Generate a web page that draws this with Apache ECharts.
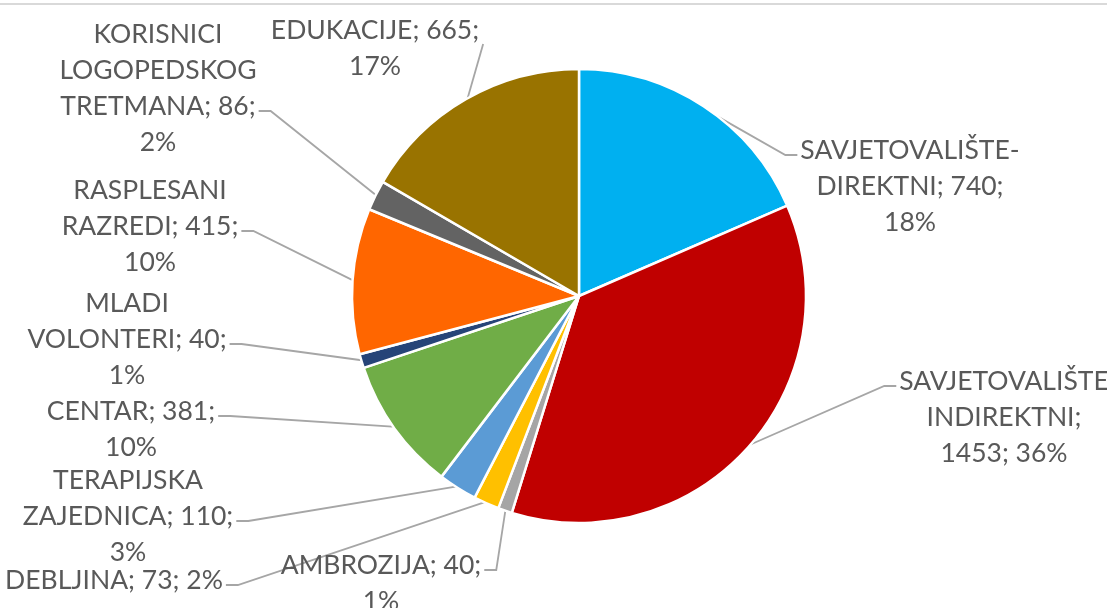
<!DOCTYPE html>
<html>
<head>
<meta charset="utf-8">
<title>Pie</title>
<script src="https://cdn.jsdelivr.net/npm/echarts@6/dist/echarts.min.js"></script>
<style>
html, body { margin: 0; padding: 0; background: #fff; }
#main { width: 1107px; height: 608px; position: relative; }
#topline { position: absolute; left: 0; right: 0; top: 3px; height: 2px; background: #d9d9d9; z-index: 2; }
</style>
</head>
<body>
<div id="main"></div>
<div id="topline"></div>
<script>
// podaci
var categories = ['SAVJETOVALIŠTE-DIREKTNI', 'SAVJETOVALIŠTE INDIREKTNI', 'AMBROZIJA', 'DEBLJINA',
  'TERAPIJSKA ZAJEDNICA', 'CENTAR', 'MLADI VOLONTERI', 'RASPLESANI RAZREDI',
  'KORISNICI LOGOPEDSKOG TRETMANA', 'EDUKACIJE'];
var values = [740, 1453, 40, 73, 110, 381, 40, 415, 86, 665];
var colors = ['#00B0F0', '#C00000', '#A5A5A5', '#FFC000', '#5B9BD5', '#70AD47', '#264478', '#FF6600', '#636363', '#997300'];

// how many words go on each label line
var wordsPerLine = [[1, 2, 1], [1, 1, 2], [2, 1], [3], [1, 2, 1], [2, 1], [1, 2, 1], [1, 2, 1], [1, 1, 2, 1], [2, 1]];

// label placement: centre x, top y, line the leader attaches to, side of the text
var labelPos = [
  { cx: 910, top: 132, line: 0, side: 'L' },
  { cx: 1004, top: 363, line: 0, side: 'L' },
  { cx: 381, top: 547, line: 0, side: 'R' },
  { cx: 114, top: 562, line: 0, side: 'R' },
  { cx: 128, top: 462, line: 1, side: 'R' },
  { cx: 131, top: 393, line: 0, side: 'R' },
  { cx: 127, top: 285, line: 1, side: 'R' },
  { cx: 150, top: 172, line: 1, side: 'R' },
  { cx: 158, top: 16, line: 2, side: 'R' },
  { cx: 375, top: 12, line: 0, side: 'U' }
];

var FONT = 'Lato';
var FONT_SIZE = 26.5;
var LH = 36;
var CENTER = [579, 296];
var RADIUS = 227;

var total = values.reduce(function (a, b) { return a + b; }, 0);

function labelLines(i) {
  var pct = Math.round(values[i] / total * 100);
  var txt = categories[i] + '; ' + values[i] + '; ' + pct + '%';
  var words = txt.replace(/-/g, '- ').split(' ');
  var out = [], k = 0;
  wordsPerLine[i].forEach(function (n) {
    out.push(words.slice(k, k + n).join(' '));
    k += n;
  });
  return out;
}

var measureCtx = document.createElement('canvas').getContext('2d');
measureCtx.font = FONT_SIZE + 'px ' + FONT;

function midAngle(i) {
  var cum = 0;
  for (var j = 0; j < i; j++) cum += values[j];
  return (cum + values[i] / 2) / total * Math.PI * 2;
}

var chart = echarts.init(document.getElementById('main'), null, { renderer: 'canvas' });

var option = {
  backgroundColor: '#fff',
  animation: false,
  color: colors,
  series: [{
    type: 'pie',
    center: CENTER,
    radius: RADIUS,
    startAngle: 90,
    clockwise: true,
    avoidLabelOverlap: false,
    emphasis: { disabled: true },
    itemStyle: { borderColor: '#fff', borderWidth: 2.5 },
    label: {
      show: true,
      position: 'outside',
      fontFamily: FONT,
      fontSize: FONT_SIZE,
      lineHeight: LH,
      color: '#595959',
      formatter: function (p) { return labelLines(p.dataIndex).join('\n'); }
    },
    labelLine: {
      show: true,
      smooth: false,
      lineStyle: { color: '#A6A6A6', width: 1.8 }
    },
    labelLayout: function (params) {
      var i = params.dataIndex;
      var pos = labelPos[i];
      var lines = labelLines(i);
      var w = measureCtx.measureText(lines[pos.line]).width;
      var a = midAngle(i);
      var r = RADIUS - 2;
      var start = [CENTER[0] + r * Math.sin(a), CENTER[1] - r * Math.cos(a)];
      var y = pos.top + (pos.line + 0.5) * LH + 5;
      var pts;
      if (pos.side === 'L') {
        var ex = pos.cx - w / 2 - 3;
        pts = [start, [ex - 12, y], [ex, y]];
      } else if (pos.side === 'R') {
        var ex2 = pos.cx + w / 2 + 3;
        pts = [start, [ex2 + 12, y], [ex2, y]];
      } else {
        var ex3 = pos.cx + w / 2 + 4;
        var ey = pos.top + LH - 4;
        pts = [start, [ex3, ey], [ex3, ey]];
      }
      return {
        x: pos.cx,
        y: pos.top,
        align: 'center',
        verticalAlign: 'top',
        labelLinePoints: pts
      };
    },
    data: categories.map(function (c, i) { return { name: c, value: values[i] }; })
  }]
};

chart.setOption(option);
</script>
</body>
</html>
